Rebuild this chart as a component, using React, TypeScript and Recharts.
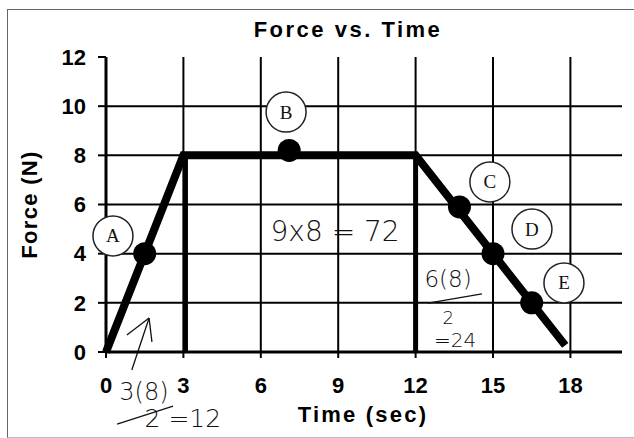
import React from 'react';
import {
  ComposedChart,
  Line,
  Scatter,
  XAxis,
  YAxis,
  CartesianGrid,
  ReferenceLine,
  ReferenceDot,
  Label,
} from 'recharts';

// ---- data ----
const timeTicks = [0, 3, 6, 9, 12, 15, 18];
const forceTicks = [0, 2, 4, 6, 8, 10, 12];
const gridTimes = [3, 6, 9, 12, 15, 18];
const gridForces = [2, 4, 6, 8, 10];

const forceTimes = [0, 3, 12, 17.8];
const forceValues = [0, 8, 8, 0.27];

const pointLetters = ['A', 'B', 'C', 'D', 'E'];
const pointTimes = [1.5, 7.1, 13.7, 15.0, 16.5];
const pointForces = [4.0, 8.2, 5.9, 4.0, 2.0];
const labelTimes = [0.27, 6.98, 14.88, 16.51, 17.75];
const labelForces = [4.72, 9.76, 6.92, 5.0, 2.81];

const dropTimes = [3.08, 12];
const dropForce = 8;

// handwritten notes
const noteTexts = ['3(8)', '2 =12', '9x8 = 72', '6(8)', '2', '=24'];
const noteTimes = [1.47, 2.98, 8.88, 13.26, 13.26, 13.53];
const noteForces = [-1.63, -2.72, 4.92, 2.97, 1.42, 0.5];
const noteSizes = [24, 25, 28, 23, 18, 20];

// pen strokes: [t1, f1, t2, f2]
const penStrokes = [
  [0.43, -2.93, 2.6, -2.2],
  [12.48, 1.99, 14.57, 2.36],
  [1.0, -0.73, 1.67, 1.38],
  [1.67, 1.38, 0.81, 0.69],
  [1.67, 1.38, 1.78, 0.41],
];

const lineData = forceTimes.map((t, i) => ({ x: t, y: forceValues[i] }));
const pointData = pointTimes.map((t, i) => ({ x: t, y: pointForces[i] }));
const labelData = labelTimes.map((t, i) => ({ x: t, y: labelForces[i], letter: pointLetters[i] }));

const FONT = '"Liberation Sans", Arial, Helvetica, sans-serif';
const SERIF = '"Liberation Serif", "Times New Roman", serif';
const HAND = '"DejaVu Sans", sans-serif';

const BlackDot = (p: any) => <circle cx={p.cx} cy={p.cy} r={11.5} fill="#000" />;

const Badge = (p: any) => (
  <g>
    <circle cx={p.cx} cy={p.cy} r={20} fill="#fff" stroke="#222" strokeWidth={1.5} />
    <text
      x={p.cx}
      y={p.cy}
      textAnchor="middle"
      dominantBaseline="central"
      fontFamily={SERIF}
      fontSize={19}
      fill="#111"
    >
      {p.payload.letter}
    </text>
  </g>
);

const YLabel = (props: any) => {
  const vb = props.viewBox || {};
  const x = vb.x + 37;
  const y = vb.y + vb.height / 2;
  return (
    <text
      x={x}
      y={y}
      transform={`rotate(-90 ${x} ${y})`}
      textAnchor="middle"
      fontFamily={FONT}
      fontWeight={700}
      fontSize={22}
      letterSpacing={1.3}
      fill="#000"
    >
      Force (N)
    </text>
  );
};

const XLabel = (props: any) => {
  const vb = props.viewBox || {};
  const x = vb.x + vb.width / 2 - 1;
  const y = vb.y + 70;
  return (
    <text
      x={x}
      y={y}
      textAnchor="middle"
      fontFamily={FONT}
      fontWeight={700}
      fontSize={22}
      letterSpacing={2.2}
      fill="#000"
    >
      Time (sec)
    </text>
  );
};

export default function App() {
  return (
    <div
      style={{
        position: 'fixed',
        left: 0,
        top: 0,
        width: 634,
        height: 438,
        overflow: 'hidden',
        background: '#fff',
      }}
    >
      <div
        style={{
          position: 'absolute',
          left: 7,
          top: 9,
          width: 640,
          height: 427,
          borderLeft: '1.5px solid #666',
          borderTop: '1.5px solid #666',
          borderBottom: '1px solid #bbb',
        }}
      />
      <div
        style={{
          position: 'absolute',
          left: 348,
          top: 19,
          transform: 'translateX(-50%)',
          fontFamily: FONT,
          fontWeight: 700,
          fontSize: 22,
          lineHeight: '22px',
          letterSpacing: 2.5,
          whiteSpace: 'nowrap',
          color: '#000',
        }}
      >
        Force vs. Time
      </div>
      <div style={{ position: 'absolute', left: 0, top: 0 }}>
        <ComposedChart
          width={634}
          height={438}
          margin={{ top: 57, right: 12, left: 0, bottom: 0 }}
        >
          <CartesianGrid
            stroke="#000"
            strokeWidth={2}
            horizontalValues={gridForces}
            verticalValues={gridTimes}
          />
          <XAxis
            type="number"
            dataKey="x"
            domain={[0, 20]}
            ticks={timeTicks}
            interval={0}
            height={86}
            tickSize={6}
            tickMargin={19}
            axisLine={{ stroke: '#000', strokeWidth: 3 }}
            tickLine={{ stroke: '#000', strokeWidth: 2 }}
            tick={{ fill: '#000', fontSize: 22, fontWeight: 700, fontFamily: FONT }}
          >
            <Label content={XLabel} />
          </XAxis>
          <YAxis
            type="number"
            dataKey="y"
            domain={[0, 12]}
            ticks={forceTicks}
            interval={0}
            width={106}
            tickSize={8}
            tickMargin={12}
            axisLine={{ stroke: '#000', strokeWidth: 3 }}
            tickLine={{ stroke: '#000', strokeWidth: 2 }}
            tick={{ fill: '#000', fontSize: 22, fontWeight: 700, fontFamily: FONT }}
          >
            <Label content={YLabel} />
          </YAxis>
          {dropTimes.map((t, i) => (
            <ReferenceLine
              key={`drop${i}`}
              segment={[
                { x: t, y: 0 },
                { x: t, y: dropForce },
              ]}
              stroke="#000"
              strokeWidth={5}
              ifOverflow="visible"
            />
          ))}
          <Line
            data={lineData}
            dataKey="y"
            type="linear"
            stroke="#000"
            strokeWidth={8}
            dot={false}
            activeDot={false}
            isAnimationActive={false}
          />
          <Scatter data={pointData} dataKey="y" shape={BlackDot} isAnimationActive={false} />
          <Scatter data={labelData} dataKey="y" shape={Badge} isAnimationActive={false} />
          {penStrokes.map((s, i) => (
            <ReferenceLine
              key={`pen${i}`}
              segment={[
                { x: s[0], y: s[1] },
                { x: s[2], y: s[3] },
              ]}
              stroke="#111"
              strokeWidth={1.3}
              ifOverflow="visible"
            />
          ))}
          {noteTexts.map((txt, i) => (
            <ReferenceDot
              key={`note${i}`}
              x={noteTimes[i]}
              y={noteForces[i]}
              r={0}
              ifOverflow="visible"
              shape={(p: any) => (
                <text
                  x={p.cx}
                  y={p.cy}
                  textAnchor="middle"
                  dominantBaseline="central"
                  fontFamily={HAND}
                  fontWeight={200}
                  fontSize={noteSizes[i]}
                  fill="#111"
                >
                  {txt}
                </text>
              )}
            />
          ))}
        </ComposedChart>
      </div>
    </div>
  );
}
